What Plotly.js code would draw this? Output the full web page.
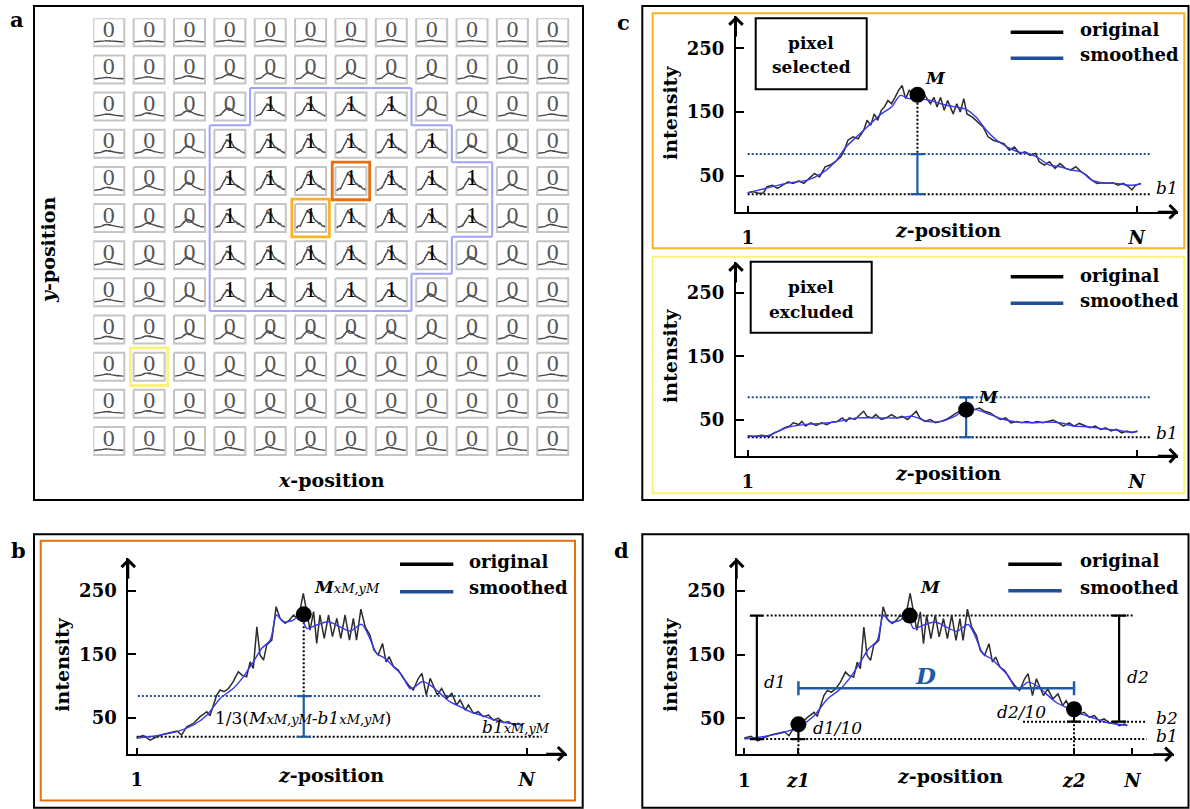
<!DOCTYPE html>
<html><head><meta charset="utf-8">
<script src="https://cdn.plot.ly/plotly-3.0.1.min.js"></script>
<style>html,body{margin:0;padding:0;background:#fff}#chart{width:1190px;height:809px}</style>
</head><body><div id="chart"></div>
<script>
// ================= DATA =================
// panel a: pixel classification (1 = selected) on a 12 x 12 grid
const gridMask = [
 [0,0,0,0,0,0,0,0,0,0,0,0],
 [0,0,0,0,0,0,0,0,0,0,0,0],
 [0,0,0,0,1,1,1,1,0,0,0,0],
 [0,0,0,1,1,1,1,1,1,0,0,0],
 [0,0,0,1,1,1,1,1,1,1,0,0],
 [0,0,0,1,1,1,1,1,1,1,0,0],
 [0,0,0,1,1,1,1,1,1,0,0,0],
 [0,0,0,1,1,1,1,1,0,0,0,0],
 [0,0,0,0,0,0,0,0,0,0,0,0],
 [0,0,0,0,0,0,0,0,0,0,0,0],
 [0,0,0,0,0,0,0,0,0,0,0,0],
 [0,0,0,0,0,0,0,0,0,0,0,0]
];
// relative peak height of each thumbnail profile
const gridPeak = [
 [0.04,0.04,0.05,0.06,0.08,0.10,0.10,0.08,0.06,0.05,0.04,0.04],
 [0.06,0.08,0.12,0.18,0.22,0.25,0.25,0.22,0.18,0.12,0.08,0.06],
 [0.08,0.12,0.20,0.30,0.45,0.48,0.48,0.45,0.28,0.18,0.12,0.08],
 [0.10,0.15,0.28,0.50,0.52,0.55,0.55,0.52,0.50,0.30,0.18,0.10],
 [0.12,0.18,0.30,0.52,0.58,0.60,0.62,0.58,0.52,0.45,0.22,0.12],
 [0.12,0.18,0.30,0.52,0.58,0.62,0.60,0.58,0.52,0.45,0.22,0.12],
 [0.12,0.16,0.28,0.50,0.55,0.58,0.58,0.55,0.48,0.30,0.20,0.12],
 [0.10,0.15,0.25,0.45,0.48,0.50,0.48,0.45,0.30,0.25,0.18,0.10],
 [0.10,0.12,0.20,0.25,0.30,0.32,0.32,0.30,0.25,0.20,0.15,0.10],
 [0.08,0.12,0.15,0.20,0.22,0.22,0.20,0.20,0.18,0.15,0.12,0.08],
 [0.07,0.10,0.12,0.15,0.18,0.18,0.16,0.15,0.14,0.12,0.10,0.07],
 [0.06,0.08,0.10,0.12,0.14,0.14,0.12,0.12,0.10,0.10,0.08,0.06]
];
// highlighted pixels [row, col]
const cellB = [4,6], cellSel = [5,5], cellExc = [9,1];

// panel b / d profile (z-position 1..N, N = 100)
const bZ = [1.0,2.7,4.4,6.1,7.8,9.5,11.2,12.4,13.7,15.4,17.1,18.8,19.6,20.5,21.3,22.2,23.2,24.3,25.5,26.8,27.7,28.9,29.8,30.6,31.5,32.3,33.2,34.0,35.3,36.4,37.4,38.7,39.8,40.8,42.0,43.3,44.2,45.0,45.9,46.7,47.5,48.6,49.7,50.7,51.8,52.8,53.9,55.0,56.0,56.8,57.9,59.0,60.2,61.2,62.3,63.4,64.3,65.1,66.2,67.4,68.7,70.0,71.2,72.5,73.4,74.5,75.5,76.3,77.3,78.4,79.7,81.0,82.2,83.1,84.4,85.2,86.5,87.7,89.0,90.3,91.5,92.8,94.1,95.4,96.6,97.9,98.7];
const bOrig = [19,21.7,14.8,20,23.8,27,29,22.7,35.8,41,51.6,59.4,53,70,85.7,93.6,91,96,106.7,122.4,117,114.6,138,127.7,193,148.7,140.8,164.4,172.3,224.8,206.4,198.6,203.8,211.7,205,245.8,211.7,188,217,167,211.7,175,211.7,177.6,206.4,175,211.7,172.3,206.4,172.3,221,193,180,156.6,148.7,167,138,146,130.3,125,112,101.4,93.6,112,119.8,85.7,112,101.4,85.7,96,80.4,88.3,70,77.8,62,70,56.8,59.4,51.6,54.2,46.3,49,42.6,43.7,38.5,41,38.5];
const bSmZ = [1.0,6.1,11.2,15.4,18.8,22.2,25.5,28.1,30.6,32.7,34.9,36.5,38.2,40.8,42.5,44.2,46.7,49.7,52.6,55.2,58.1,59.8,61.9,64.0,66.2,68.3,70.4,71.7,73.4,75.5,78.0,80.5,83.1,85.6,88.2,90.7,93.2,95.8,98.7];
const bSmooth = [17.5,21.7,28,38.5,54,80.4,96,114.6,138,159,172,211.7,201,203.8,212.7,190.7,196,201,193,186.5,197,180,151.3,143.4,130.3,117,96,98.8,106.7,101.4,88.3,75.2,67.3,59.4,54.2,49,43.7,41,38.5];
const bPeak = {z:43.4, v:212.7}, bThresh = 84, bBase = 20;

// panel c (selected pixel)
const cSelZ = [1.0,2.3,3.7,5.0,5.9,7.3,8.6,9.9,11.3,12.6,14.0,15.3,16.6,18.0,19.3,20.7,22.0,23.3,24.7,25.6,26.5,27.8,29.1,30.5,31.4,32.3,33.2,34.1,35.0,35.8,36.7,37.6,38.5,39.4,40.3,41.2,42.1,43.0,43.9,44.8,46.1,47.5,48.4,49.2,50.1,51.0,51.9,53.3,54.2,55.1,56.0,56.8,58.2,59.5,60.9,62.2,63.5,64.9,66.2,67.6,68.9,70.2,71.6,72.9,74.3,75.2,76.5,77.8,79.2,80.5,81.9,83.2,84.5,85.9,87.2,88.6,89.9,91.2,92.6,93.9,95.3,96.6,97.9,98.8,99.7,101.1];
const cSelOrig = [23.4,25,22.4,23,33,35,30,35,40.6,38,42,38,46,53.6,48,64,66.7,72,79.7,90,105.7,111,108,121,137,129,147,137,152.6,158,168,163,173,184,191.7,171,184,178.6,186.5,168,176,163,173,158,173,152.6,168,147,163,150,171,147,142,134,126.5,111,105.7,103,100.5,90,95,85,87.5,82,85,72,66.7,72,61.5,69,61.5,59,64,56,51,43,38,39,38,39,35,38,33,27.6,35,38];
const cSelSmZ = [1.0,5.5,10.8,16.2,19.8,23.3,26.0,28.7,31.4,35.0,37.6,39.9,42.1,44.8,47.5,50.1,53.7,56.4,59.1,61.8,64.4,67.1,69.8,72.5,75.2,77.8,80.5,83.2,85.9,88.6,91.2,94.8,98.4,101.1];
const cSelSmooth = [23,30,38,43,53.6,72,95,111,126.5,147,158,176,171,171,168,163,158,155,142,121,105.7,95,87.5,85,77,66.7,64,59,56,43,39,38,35,37];
const cSelPeak = {z:44.2, v:177}, cSelThresh = 84, cSelBase = 21;

// panel c (excluded pixel)
const cExcZ = [1.0,2.8,4.6,6.4,7.7,9.0,10.4,11.7,12.6,14.0,14.8,15.7,17.1,18.4,19.8,21.1,22.4,23.8,25.1,26.0,26.9,28.3,29.6,30.5,31.4,32.7,33.6,35.0,36.3,37.6,39.0,40.3,41.7,43.0,43.9,44.8,46.1,47.5,48.8,50.1,51.5,52.8,54.2,55.5,56.8,57.7,58.6,60.0,61.3,62.7,64.0,65.3,66.7,68.0,69.4,70.7,72.0,73.4,74.7,76.1,77.4,78.7,80.1,81.4,82.8,84.1,85.4,86.8,88.1,89.5,90.8,92.1,93.5,94.8,96.2,97.5,98.8,100.2];
const cExcOrig = [24,23,25,23,29,32,37,39.6,44.8,42,47,39.6,44.8,40.6,44.8,42,45.8,47,52.6,47,52.6,50,57.8,63,55,52.6,57.8,50,52.6,57.8,52.6,55,50,57.8,63,52.6,47,50,44.8,47,50,55,60.4,65.6,68,70.8,65.6,68,63,60.4,55,50,52.6,44.8,47,44.8,47,44.8,47,44.8,47,49,44.8,39.6,44.8,39.6,43.8,39.6,37,39.6,34.4,37,31.8,34.4,29,31.8,29,31.8];
const cExcSmZ = [1.0,6.4,10.8,15.3,19.8,24.2,28.7,32.3,35.8,39.4,43.0,46.6,50.1,53.7,56.4,59.1,62.7,66.2,69.8,73.4,76.9,80.5,84.1,87.7,91.2,94.8,98.4,100.2];
const cExcSmooth = [24,25,37,42,43.8,47,52.6,52.6,52.6,52.6,55,47,47,55,65.6,65.6,57.8,50,45.8,44.8,45.8,44.8,39.6,38.6,35.5,33.4,30,31];
const cExcPeak = {z:56.6, v:65.6}, cExcThresh = 85, cExcBase = 22;

// panel d measures
const dPeak = {z:43.2, v:211};
const dB1 = 17.5, dB2 = 44.7;
const dZ1 = {z:14.8, v:40.6}, dZ2 = {z:85.1, v:64.2};
const dD = 97.2;
const dBarZ = [4.2, 96.6];

const yTicks = [50, 150, 250];
const N = 100;

// ================= HELPERS =================
const W = 1190, H = 809;
const SERIF = 'DejaVu Serif';
const X = px => px / W, Y = py => 1 - py / H;
const traces = [], shapes = [], annotations = [];
const BLUE_DOT = '#1f4e9c', BLUE_BAR = '#1f5aa8', BLUE_SM = '#3838f2';

function txt(px, py, text, opt) {
  const o = Object.assign({xref:'paper', yref:'paper', x:X(px), y:Y(py), text:text, showarrow:false,
    xanchor:'center', yanchor:'middle', font:{family:SERIF, size:18, color:'#000'}}, opt || {});
  annotations.push(o);
}
function rectPx(x0, y0, x1, y1, color, width) {
  shapes.push({type:'rect', xref:'paper', yref:'paper', x0:X(x0), x1:X(x1), y0:Y(y1), y1:Y(y0),
    line:{color:color, width:width}, fillcolor:'rgba(0,0,0,0)', layer:'above'});
}
function lineTrace(p, xs, ys, color, width, dash, extra) {
  traces.push(Object.assign({type:'scatter', mode:'lines', x:xs, y:ys, xaxis:p.x, yaxis:p.y,
    line:{color:color, width:width, dash:dash || 'solid'}, hoverinfo:'skip', showlegend:false}, extra || {}));
}
function vBar(p, z, y0, y1, color) {
  traces.push({type:'scatter', mode:'markers', x:[z], y:[y0], xaxis:p.x, yaxis:p.y,
    marker:{size:1, color:'rgba(0,0,0,0)'}, hoverinfo:'skip', showlegend:false,
    error_y:{type:'data', symmetric:false, array:[y1 - y0], arrayminus:[0], color:color, thickness:2.2, width:7}});
}
function dot(p, z, v) {
  traces.push({type:'scatter', mode:'markers', x:[z], y:[v], xaxis:p.x, yaxis:p.y,
    marker:{size:16, color:'#000'}, hoverinfo:'skip', showlegend:false});
}
function legendBox(lx0, lx1, ly1, ly2, tx, ty1, ty2) {
  shapes.push({type:'line', xref:'paper', yref:'paper', x0:X(lx0), x1:X(lx1), y0:Y(ly1), y1:Y(ly1), line:{color:'#000', width:3.5}});
  shapes.push({type:'line', xref:'paper', yref:'paper', x0:X(lx0), x1:X(lx1), y0:Y(ly2), y1:Y(ly2), line:{color:BLUE_DOT, width:3.5}});
  txt(tx, ty1, '<b>original</b>', {xanchor:'left'});
  txt(tx, ty2, '<b>smoothed</b>', {xanchor:'left'});
}

const layout = {width:W, height:H, margin:{l:0,r:0,t:0,b:0}, paper_bgcolor:'#fff', plot_bgcolor:'rgba(0,0,0,0)',
  showlegend:false, font:{family:SERIF, color:'#000'}};

// profile panel geometry (pixels)
const P = {
  b:  {n:2, left:128.3, right:566.7, top:558.3, bottom:753.7, zr:[-1.13,110.15], yr:[-6.7,301]},
  cs: {n:3, left:736,   right:1178.3, top:16,   bottom:211.7, zr:[-1.98,110.6], yr:[-6.5,300.7]},
  ce: {n:4, left:736,   right:1178.3, top:262,  bottom:455.7, zr:[-1.98,110.6], yr:[-7.2,299]},
  d:  {n:5, left:736.7, right:1174,   top:558.3, bottom:754.3, zr:[-0.94,110.6], yr:[-6.4,300.8]}
};
function setupAxes(p, tv, tt) {
  p.x = 'x' + p.n; p.y = 'y' + p.n;
  const tf = {family:SERIF, size:18, color:'#000', weight:'bold'};
  layout['xaxis' + p.n] = {domain:[X(p.left), X(p.right)], range:p.zr, anchor:p.y, showline:true, linewidth:2, linecolor:'#000',
    ticks:'inside', ticklen:6, tickwidth:2, tickcolor:'#000', tickmode:'array', tickvals:tv, ticktext:tt, tickfont:tf,
    ticklabelstandoff:9, showgrid:false, zeroline:false, fixedrange:true};
  layout['yaxis' + p.n] = {domain:[Y(p.bottom), Y(p.top)], range:p.yr, anchor:p.x, showline:true, linewidth:2, linecolor:'#000',
    ticks:'inside', ticklen:8, tickwidth:2, tickcolor:'#000', tickmode:'array', tickvals:yTicks, ticktext:yTicks.map(String), tickfont:tf,
    ticklabelstandoff:6, showgrid:false, zeroline:false, fixedrange:true};
  // arrow heads
  annotations.push({xref:'paper', yref:'paper', x:X(p.right), y:Y(p.bottom), ax:-22, ay:0, text:'', showarrow:true,
    arrowhead:4, arrowsize:1.3, arrowwidth:2, arrowcolor:'#000', standoff:0});
  annotations.push({xref:'paper', yref:'paper', x:X(p.left), y:Y(p.top), ax:0, ay:22, text:'', showarrow:true,
    arrowhead:4, arrowsize:1.3, arrowwidth:2, arrowcolor:'#000', standoff:0});
}
function profile(p, z, orig, sz, sm) {
  lineTrace(p, z, orig, '#2c2c2c', 1.5);
  lineTrace(p, sz, sm, BLUE_SM, 1.4, 'solid', {line:{color:BLUE_SM, width:1.4, shape:'spline', smoothing:0.8}});
}

// ================= PANEL A =================
const CW = 0.768, CH = 0.754;
layout.xaxis = {domain:[X(93.3), X(577.6)], range:[0, 12], visible:false, fixedrange:true};
layout.yaxis = {domain:[Y(464.1), Y(18.3)], range:[12, 0], visible:false, fixedrange:true, anchor:'x'};
{
  const fx = [], fy = [], tx = [], ty = [];
  const zMax = cSelZ[cSelZ.length - 1];
  const vMin = Math.min(...cSelOrig), vMax = Math.max(...cSelOrig);
  const z0x = [], z0y = [], z1x = [], z1y = [], z0t = [], z1t = [];
  for (let r = 0; r < gridMask.length; r++) {
    for (let c = 0; c < gridMask[r].length; c++) {
      fx.push(c, c + CW, c + CW, c, c, null); fy.push(r, r, r + CH, r + CH, r, null);
      for (let i = 0; i < cSelZ.length; i++) {
        tx.push(c + CW * (0.03 + 0.94 * (cSelZ[i] - 1) / (zMax - 1)));
        ty.push(r + CH * (0.84 - gridPeak[r][c] * (cSelOrig[i] - vMin) / (vMax - vMin)));
      }
      tx.push(null); ty.push(null);
      if (gridMask[r][c]) { z1x.push(c + CW / 2); z1y.push(r + CH * 0.45); z1t.push('1'); }
      else { z0x.push(c + CW / 2); z0y.push(r + CH * 0.45); z0t.push('0'); }
    }
  }
  traces.push({type:'scatter', mode:'lines', x:fx, y:fy, xaxis:'x', yaxis:'y', line:{color:'#c4c4c4', width:2}, hoverinfo:'skip', showlegend:false});
  traces.push({type:'scatter', mode:'lines', x:tx, y:ty, xaxis:'x', yaxis:'y', line:{color:'#4a4a4a', width:1.4}, hoverinfo:'skip', showlegend:false});
  traces.push({type:'scatter', mode:'text', x:z0x, y:z0y, text:z0t, xaxis:'x', yaxis:'y', textfont:{family:'Liberation Serif', size:24, color:'#555'}, hoverinfo:'skip', showlegend:false});
  traces.push({type:'scatter', mode:'text', x:z1x, y:z1y, text:z1t, xaxis:'x', yaxis:'y', textfont:{family:'Liberation Serif', size:24, color:'#000'}, hoverinfo:'skip', showlegend:false});
  // outline of selected region
  const ox = [], oy = [];
  const gx = k => k - (1 - CW) / 2, gy = k => k - (1 - CH) / 2;
  const m = (r, c) => (r >= 0 && r < gridMask.length && c >= 0 && c < gridMask[0].length) ? gridMask[r][c] : 0;
  for (let r = 0; r < gridMask.length; r++) for (let c = 0; c < gridMask[r].length; c++) {
    if (!gridMask[r][c]) continue;
    if (!m(r - 1, c)) { ox.push(gx(c), gx(c + 1), null); oy.push(gy(r), gy(r), null); }
    if (!m(r + 1, c)) { ox.push(gx(c), gx(c + 1), null); oy.push(gy(r + 1), gy(r + 1), null); }
    if (!m(r, c - 1)) { ox.push(gx(c), gx(c), null); oy.push(gy(r), gy(r + 1), null); }
    if (!m(r, c + 1)) { ox.push(gx(c + 1), gx(c + 1), null); oy.push(gy(r), gy(r + 1), null); }
  }
  traces.push({type:'scatter', mode:'lines', x:ox, y:oy, xaxis:'x', yaxis:'y', line:{color:'#a0a0ff', width:2}, hoverinfo:'skip', showlegend:false});
  const hl = (cell, color) => shapes.push({type:'rect', xref:'x', yref:'y', x0:cell[1] - 0.08, x1:cell[1] + CW + 0.08,
    y0:cell[0] - 0.13, y1:cell[0] + CH + 0.13, line:{color:color, width:2.8}, layer:'above'});
  hl(cellB, '#e4700f'); hl(cellSel, '#fbb224'); hl(cellExc, '#fbf27a');
}
rectPx(34, 6, 583, 500, '#000', 2);
txt(17, 19, '<b>a</b>', {font:{family:SERIF, size:21, color:'#000'}});
txt(331, 480, '<b><i>x</i>-position</b>', {font:{family:SERIF, size:19, color:'#000'}});
txt(48, 250, '<b><i>y</i>-position</b>', {textangle:-90, font:{family:SERIF, size:19, color:'#000'}});

// ================= PANEL B =================
{
  const p = P.b;
  setupAxes(p, [1, N], ['1', '<i>N</i>']);
  lineTrace(p, [1.3, 103.4], [bThresh, bThresh], BLUE_DOT, 2, '2px,2px');
  lineTrace(p, [1.0, 103.8], [bBase, bBase], '#000', 2, '2px,2px');
  lineTrace(p, [bPeak.z, bPeak.z], [bPeak.v, bThresh], '#000', 2, '2px,2px');
  profile(p, bZ, bOrig, bSmZ, bSmooth);
  vBar(p, bPeak.z, bBase, bThresh, BLUE_BAR);
  dot(p, bPeak.z, bPeak.v);
  rectPx(34, 534.3, 582.7, 807.7, '#000', 2);
  rectPx(40.7, 540.7, 575, 800.5, '#e4700f', 2);
  txt(18, 550, '<b>b</b>', {font:{family:SERIF, size:21, color:'#000'}});
  txt(61.7, 665, '<b>intensity</b>', {textangle:-90, font:{family:SERIF, size:19, color:'#000'}});
  txt(331, 775, '<b><i>z</i>-position</b>', {font:{family:SERIF, size:19, color:'#000'}});
  legendBox(400, 453.3, 564.3, 591.7, 466.7, 561, 587.3);
  txt(311.7, 587.3, '<i><b>M</b><span style="font-size:13px">xM,yM</span></i>', {xanchor:'left', font:{family:SERIF, size:17, color:'#000'}});
  txt(213.3, 717.7, '1/3(<i>M<span style="font-size:13px">xM,yM</span>-b1<span style="font-size:13px">xM,yM</span></i>)', {xanchor:'left', font:{family:SERIF, size:17, color:'#000'}});
  txt(480, 726.7, '<i>b1<span style="font-size:13px">xM,yM</span></i>', {xanchor:'left', font:{family:SERIF, size:17, color:'#000'}});
}

// ================= PANEL C =================
{
  const p = P.cs;
  setupAxes(p, [1, N], ['1', '<i>N</i>']);
  lineTrace(p, [1.0, 103.4], [cSelThresh, cSelThresh], BLUE_DOT, 2, '2px,2px');
  lineTrace(p, [1.0, 103.4], [cSelBase, cSelBase], '#000', 2, '2px,2px');
  lineTrace(p, [cSelPeak.z, cSelPeak.z], [cSelPeak.v, cSelThresh], '#000', 2, '2px,2px');
  profile(p, cSelZ, cSelOrig, cSelSmZ, cSelSmooth);
  vBar(p, cSelPeak.z, cSelBase, cSelThresh, BLUE_BAR);
  dot(p, cSelPeak.z, cSelPeak.v);
  txt(670, 113, '<b>intensity</b>', {textangle:-90, font:{family:SERIF, size:19, color:'#000'}});
  txt(948, 230, '<b><i>z</i>-position</b>', {font:{family:SERIF, size:19, color:'#000'}});
  legendBox(1010.7, 1063.3, 32.3, 58.3, 1078.3, 30, 54.3);
  rectPx(755.7, 18.3, 866.7, 89.3, '#000', 2);
  txt(811, 43.3, '<b>pixel</b>', {font:{family:SERIF, size:17, color:'#000'}});
  txt(811, 66.7, '<b>selected</b>', {font:{family:SERIF, size:17, color:'#000'}});
  txt(935, 78.3, '<i><b>M</b></i>', {font:{family:SERIF, size:17, color:'#000'}});
  txt(1166.7, 188.3, '<i>b1</i>', {font:{family:SERIF, size:17, color:'#000'}});
}
{
  const p = P.ce;
  setupAxes(p, [1, N], ['1', '<i>N</i>']);
  lineTrace(p, [1.0, 103.4], [cExcThresh, cExcThresh], BLUE_DOT, 2, '2px,2px');
  lineTrace(p, [1.0, 103.4], [cExcBase, cExcBase], '#000', 2, '2px,2px');
  profile(p, cExcZ, cExcOrig, cExcSmZ, cExcSmooth);
  vBar(p, cExcPeak.z, cExcBase, cExcThresh, BLUE_BAR);
  dot(p, cExcPeak.z, cExcPeak.v);
  txt(670, 356, '<b>intensity</b>', {textangle:-90, font:{family:SERIF, size:19, color:'#000'}});
  txt(948, 473.3, '<b><i>z</i>-position</b>', {font:{family:SERIF, size:19, color:'#000'}});
  legendBox(1010.7, 1063.3, 276.7, 303.3, 1078.3, 275, 300);
  rectPx(750.7, 261.7, 871.7, 332.7, '#000', 2);
  txt(811, 286.7, '<b>pixel</b>', {font:{family:SERIF, size:17, color:'#000'}});
  txt(811, 311.7, '<b>excluded</b>', {font:{family:SERIF, size:17, color:'#000'}});
  txt(988.3, 396.7, '<i><b>M</b></i>', {font:{family:SERIF, size:17, color:'#000'}});
  txt(1166.7, 433.3, '<i>b1</i>', {font:{family:SERIF, size:17, color:'#000'}});
}
rectPx(642.3, 6, 1188.5, 500, '#000', 2);
rectPx(652.7, 13.3, 1184.3, 248.3, '#fbb224', 2);
rectPx(652.7, 256.7, 1184.3, 493.3, '#fbf27a', 2);
txt(623, 23, '<b>c</b>', {font:{family:SERIF, size:21, color:'#000'}});

// ================= PANEL D =================
{
  const p = P.d;
  setupAxes(p, [1, dZ1.z, dZ2.z, N], ['1', '<i>z1</i>', '<i>z2</i>', '<i>N</i>']);
  lineTrace(p, [6.7, 100.2], [dPeak.v, dPeak.v], '#000', 2, '2px,2px');
  lineTrace(p, [2.5, 103.6], [dB1, dB1], '#000', 2, '2px,2px');
  lineTrace(p, [72.1, 103.6], [dB2, dB2], '#000', 2, '2px,2px');
  lineTrace(p, [dZ1.z, dZ1.z], [p.yr[0], dB1], '#000', 2, '2px,2px');
  lineTrace(p, [dZ2.z, dZ2.z], [p.yr[0], dB2], '#000', 2, '2px,2px');
  profile(p, bZ, bOrig, bSmZ, bSmooth);
  vBar(p, dBarZ[0], dB1, dPeak.v, '#000');
  vBar(p, dBarZ[1], dB2, dPeak.v, '#000');
  vBar(p, dZ1.z, dB1, dZ1.v, '#000');
  vBar(p, dZ2.z, dB2, dZ2.v, '#000');
  traces.push({type:'scatter', mode:'markers', x:[dZ1.z], y:[dD], xaxis:p.x, yaxis:p.y, marker:{size:1, color:'rgba(0,0,0,0)'},
    hoverinfo:'skip', showlegend:false, error_x:{type:'data', symmetric:false, array:[dZ2.z - dZ1.z], arrayminus:[0], color:BLUE_BAR, thickness:2.5, width:7}});
  dot(p, dPeak.z, dPeak.v); dot(p, dZ1.z, dZ1.v); dot(p, dZ2.z, dZ2.v);
  rectPx(642.3, 534.3, 1188.5, 807.7, '#000', 2);
  txt(621.5, 550, '<b>d</b>', {font:{family:SERIF, size:21, color:'#000'}});
  txt(670, 665, '<b>intensity</b>', {textangle:-90, font:{family:SERIF, size:19, color:'#000'}});
  txt(950, 776, '<b><i>z</i>-position</b>', {font:{family:SERIF, size:19, color:'#000'}});
  legendBox(1008.3, 1061.7, 564.3, 590.7, 1078.3, 560.7, 587.3);
  txt(930, 587.3, '<i><b>M</b></i>', {font:{family:SERIF, size:17, color:'#000'}});
  txt(775, 681.7, '<i>d1</i>', {font:{family:SERIF, size:17, color:'#000'}});
  txt(1138.3, 676.7, '<i>d2</i>', {font:{family:SERIF, size:17, color:'#000'}});
  txt(925, 675, '<i><b>D</b></i>', {font:{family:SERIF, size:23, color:BLUE_BAR}});
  txt(837.5, 728.3, '<i>d1/10</i>', {font:{family:SERIF, size:17, color:'#000'}});
  txt(1021.7, 711.7, '<i>d2/10</i>', {font:{family:SERIF, size:17, color:'#000'}});
  txt(1166.7, 717.7, '<i>b2</i>', {font:{family:SERIF, size:17, color:'#000'}});
  txt(1166.7, 735.7, '<i>b1</i>', {font:{family:SERIF, size:17, color:'#000'}});
}

layout.shapes = shapes;
layout.annotations = annotations;
Plotly.newPlot('chart', traces, layout, {staticPlot:true, displayModeBar:false});
</script>
</body></html>
